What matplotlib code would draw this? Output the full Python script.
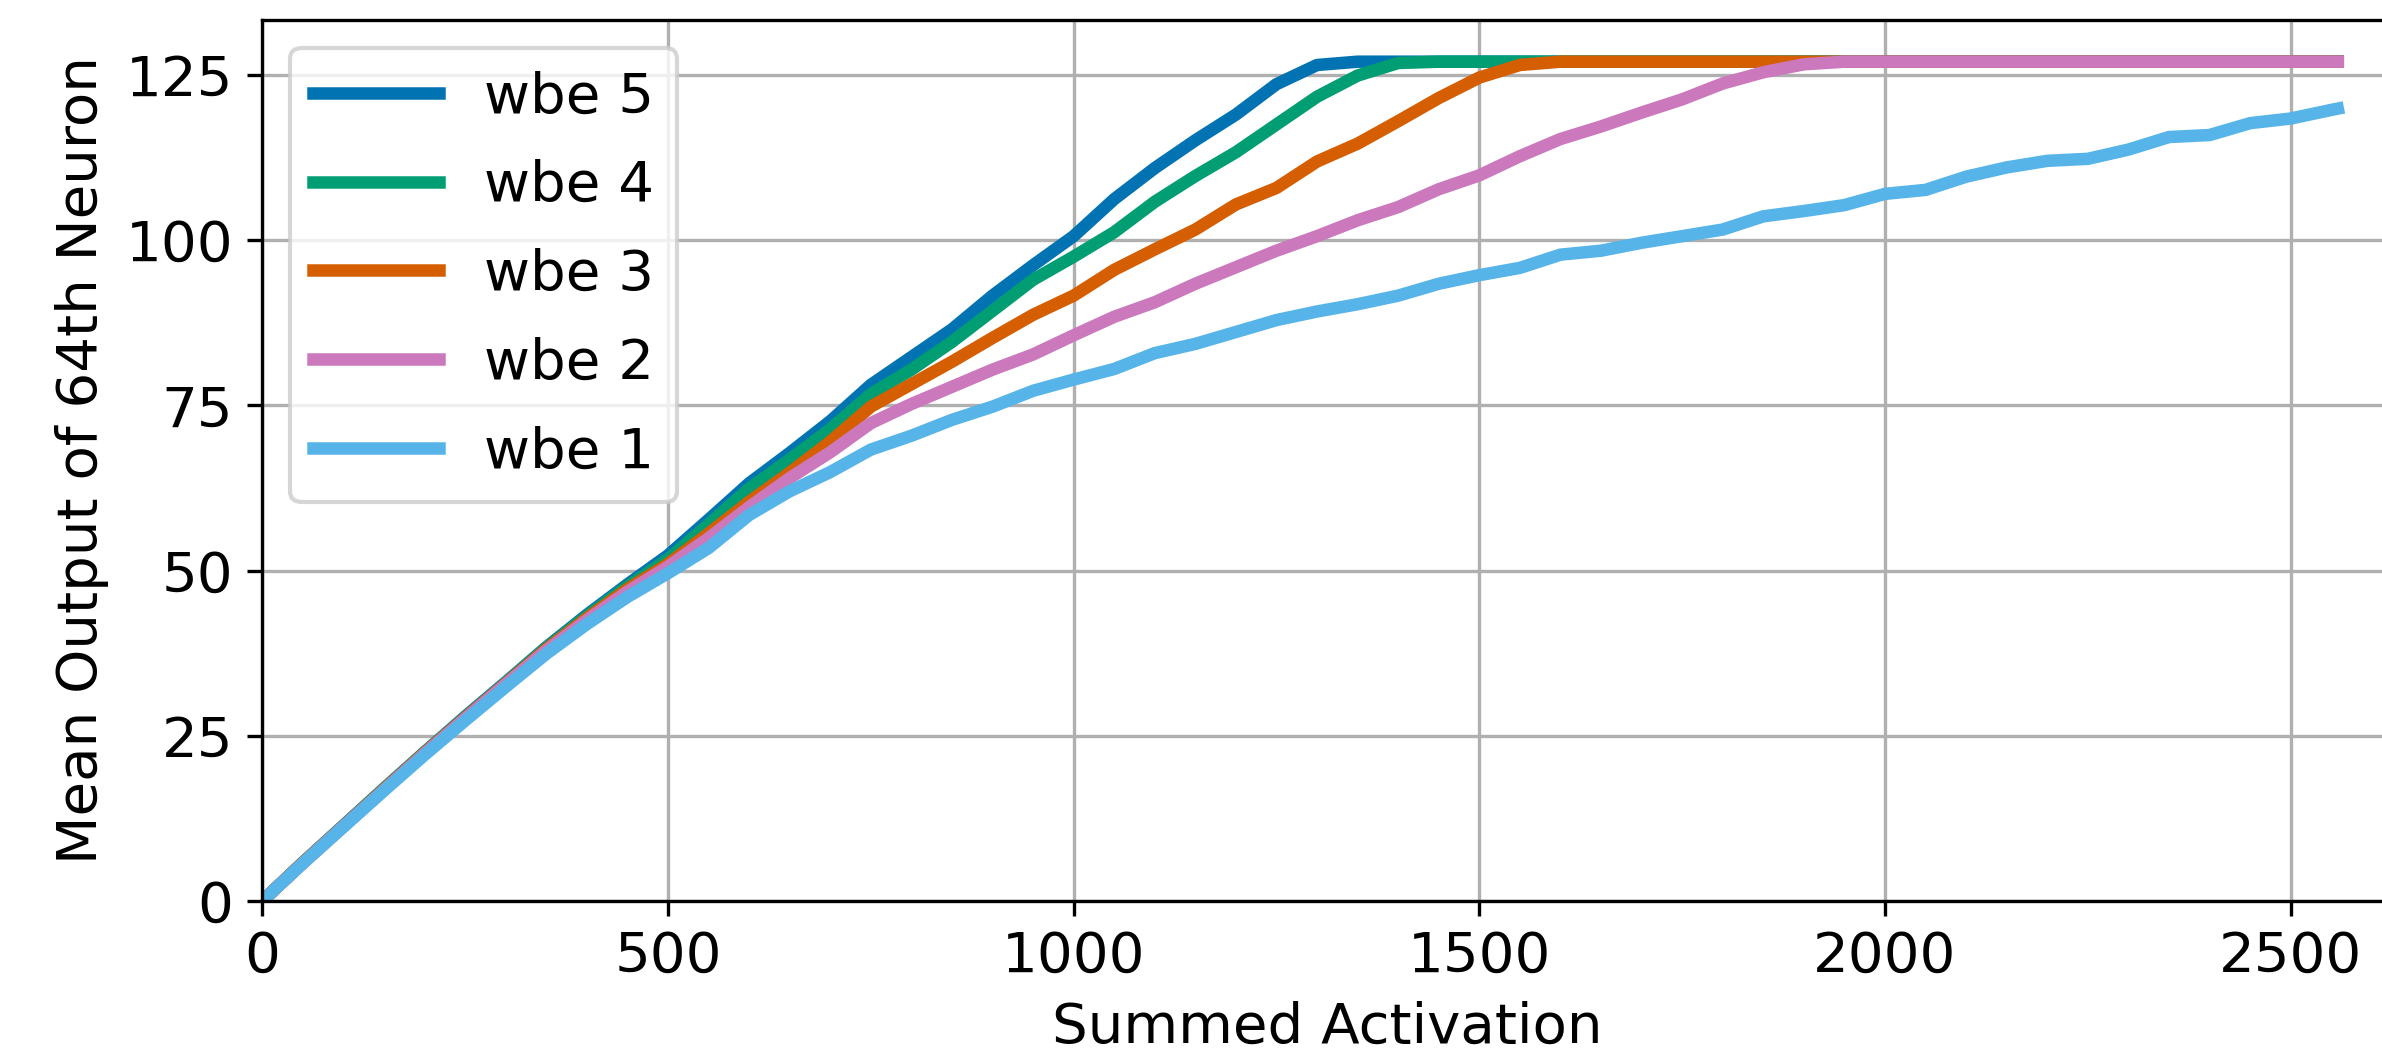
import matplotlib
matplotlib.use("Agg")
import matplotlib.pyplot as plt

# summed activation (x) and mean output of the 64th neuron for each wbe setting
summed = [0, 50, 100, 150, 200, 250, 300, 350, 400, 450,
          500, 550, 600, 650, 700, 750, 800, 850, 900, 950,
          1000, 1050, 1100, 1150, 1200, 1250, 1300, 1350, 1400, 1450,
          1500, 1550, 1600, 1650, 1700, 1750, 1800, 1850, 1900, 1950,
          2000, 2050, 2100, 2150, 2200, 2250, 2300, 2350, 2400, 2450,
          2500, 2550, 2558]

wbe5 = [0, 5.8, 11.4, 17.0, 22.5, 27.9, 33.1, 38.4, 43.3, 47.9,
        52.3, 57.7, 63.2, 67.8, 72.6, 78.1, 82.3, 86.5, 91.6, 96.2,
        100.6, 106.2, 110.9, 115.1, 119.0, 123.6, 126.5, 127, 127, 127,
        127, 127, 127, 127, 127, 127, 127, 127, 127, 127,
        127, 127, 127, 127, 127, 127, 127, 127, 127, 127,
        127, 127, 127]

wbe4 = [0, 5.8, 11.4, 17.0, 22.5, 27.8, 33.0, 38.3, 43.1, 47.6,
        51.7, 57.0, 62.4, 66.8, 71.4, 76.7, 80.4, 84.6, 89.3, 94.0,
        97.5, 101.2, 105.8, 109.7, 113.3, 117.5, 121.7, 124.9, 126.8, 127,
        127, 127, 127, 127, 127, 127, 127, 127, 127, 127,
        127, 127, 127, 127, 127, 127, 127, 127, 127, 127,
        127, 127, 127]

wbe3 = [0, 5.8, 11.3, 16.9, 22.4, 27.7, 32.9, 38.1, 42.8, 47.2,
        51.0, 55.6, 60.4, 64.8, 69.5, 74.8, 78.2, 81.6, 85.2, 88.7,
        91.6, 95.5, 98.6, 101.6, 105.4, 107.9, 111.9, 114.6, 118.0, 121.5,
        124.6, 126.5, 127, 127, 127, 127, 127, 127, 127, 127,
        127, 127, 127, 127, 127, 127, 127, 127, 127, 127,
        127, 127, 127]

wbe2 = [0, 5.7, 11.3, 16.8, 22.3, 27.6, 32.8, 37.9, 42.5, 46.8,
        50.6, 54.9, 59.6, 64.0, 67.9, 72.3, 75.2, 77.8, 80.4, 82.7,
        85.6, 88.4, 90.6, 93.4, 95.9, 98.4, 100.6, 103.0, 105.0, 107.7,
        109.8, 112.7, 115.3, 117.2, 119.3, 121.3, 123.7, 125.4, 126.6, 127,
        127, 127, 127, 127, 127, 127, 127, 127, 127, 127,
        127, 127, 127]

wbe1 = [0, 5.7, 11.2, 16.7, 22.1, 27.3, 32.4, 37.4, 41.9, 46.0,
        49.6, 53.4, 58.4, 62.0, 64.9, 68.3, 70.4, 72.8, 74.8, 77.2,
        78.9, 80.5, 82.9, 84.3, 86.1, 87.9, 89.2, 90.3, 91.6, 93.4,
        94.7, 95.8, 97.8, 98.4, 99.6, 100.6, 101.6, 103.6, 104.4, 105.3,
        107.0, 107.6, 109.6, 111.0, 112.0, 112.3, 113.7, 115.6, 115.9, 117.7,
        118.4, 119.7, 119.9]

series = [("wbe 5", wbe5, "#0173b2"),
          ("wbe 4", wbe4, "#029e73"),
          ("wbe 3", wbe3, "#d55e00"),
          ("wbe 2", wbe2, "#cc78bc"),
          ("wbe 1", wbe1, "#56b4e9")]

plt.rcParams["font.family"] = "DejaVu Sans"
plt.rcParams["font.size"] = 13.5

fig = plt.figure(figsize=(2382 / 300, 1060 / 300), dpi=300)
ax = fig.add_axes([0.1101, 0.15, 0.8945, 0.8314])

for label, vals, col in series:
    ax.plot(summed, vals, color=col, lw=3, label=label)

ax.set_xlim(0, 2626)
ax.set_ylim(0, 133.35)
ax.set_xticks([0, 500, 1000, 1500, 2000, 2500])
ax.set_yticks([0, 25, 50, 75, 100, 125])
ax.grid(True)
ax.set_axisbelow(True)

ax.set_xlabel("Summed Activation")
ax.set_ylabel("Mean Output of 64th Neuron")
ax.legend(loc="upper left", handlelength=2.25, labelspacing=0.62)

fig.savefig("out.png", dpi=300)
